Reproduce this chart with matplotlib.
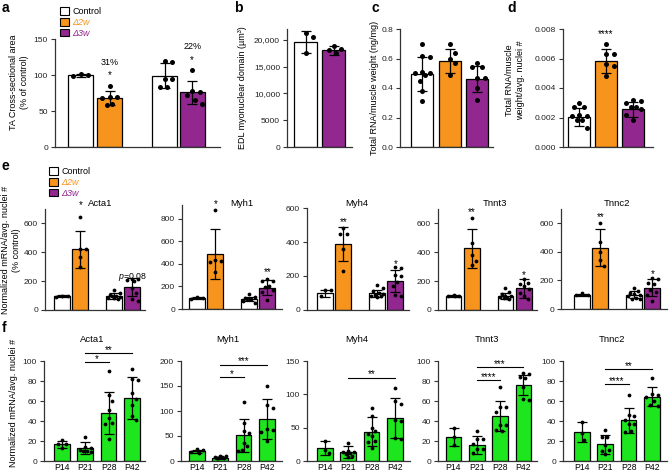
import matplotlib
matplotlib.use("Agg")
import matplotlib.pyplot as plt
import numpy as np
from matplotlib.patches import Patch

plt.rcParams["font.family"] = ["Liberation Sans", "DejaVu Sans"]
plt.rcParams["mathtext.fontset"] = "custom"
plt.rcParams["mathtext.rm"] = "Liberation Sans"
plt.rcParams["mathtext.it"] = "Liberation Sans:italic"

W, H = 669, 475
WHITE, ORANGE, PURPLE, GREEN = "white", "#F7941D", "#92278F", "#1EE61E"

# ---- panel a: TA cross-sectional area (% of control)
a_mean = [99.8, 68.5, 99.0, 75.7]
a_sd = [2.0, 9.5, 17.5, 16.0]
a_pts = [[98, 102, 100], [85, 70, 69, 68, 60, 59],
         [120, 118, 95, 94, 84, 83], [107, 78, 77, 72, 65, 60]]
a_star = ["", "*", "", "*"]
a_star_y = [0, 104, 0, 124]
a_pct = ["", "31%", "", "22%"]
a_pct_y = [0, 118, 0, 140]

# ---- panel b: EDL myonuclear domain
b_mean = [19600, 18000]
b_sd = [2000, 800]
b_pts = [[20600, 21250, 17500], [18900, 18200, 18100, 17500]]

# ---- panel c: total RNA / muscle weight
c_mean = [0.495, 0.585, 0.46]
c_sd = [0.115, 0.08, 0.09]
c_pts = [[0.70, 0.62, 0.61, 0.51, 0.50, 0.50, 0.49, 0.45, 0.38, 0.31],
         [0.70, 0.64, 0.60, 0.57, 0.49],
         [0.57, 0.54, 0.54, 0.47, 0.47, 0.40, 0.32]]

# ---- panel d: total RNA / muscle weight / nuclei
d_mean = [0.00205, 0.00583, 0.00256]
d_sd = [0.0006, 0.0008, 0.0005]
d_pts = [[0.0030, 0.0027, 0.0027, 0.0022, 0.0021, 0.0021, 0.0018, 0.0018, 0.0013],
         [0.0070, 0.0063, 0.0063, 0.0056, 0.0055, 0.0048],
         [0.0032, 0.0031, 0.0030, 0.0027, 0.0027, 0.0026, 0.0022, 0.0018]]

# ---- panel e: normalized mRNA (% control); groups Control, d2w, Control, d3w
e_genes = ["Acta1", "Myh1", "Myh4", "Tnnt3", "Tnnc2"]
e_acta1_mean = [97, 422, 97, 160]
e_acta1_sd = [8, 128, 22, 60]
e_acta1_pts = [[100, 95, 92], [645, 425, 420, 370, 300],
               [140, 120, 105, 100, 95, 90, 85, 80, 75], [215, 212, 208, 200, 150, 120, 75, 60]]
e_myh1_mean = [96, 489, 92, 190]
e_myh1_sd = [8, 223, 18, 70]
e_myh1_pts = [[90, 104, 95], [880, 430, 425, 420, 323],
              [130, 104, 95, 90, 85, 75, 50], [264, 252, 245, 204, 199, 169, 150, 80]]
e_myh4_mean = [98, 388, 98, 171]
e_myh4_sd = [22, 100, 20, 65]
e_myh4_pts = [[118, 117, 80], [480, 448, 448, 358, 232],
              [145, 130, 110, 100, 95, 90, 85, 80, 75], [255, 250, 205, 200, 165, 140, 88, 85]]
e_tnnt3_mean = [97, 427, 97, 150]
e_tnnt3_sd = [4, 133, 22, 68]
e_tnnt3_pts = [[102, 100, 98, 95], [640, 465, 380, 340, 315],
               [150, 125, 110, 100, 95, 90, 85, 80, 75], [212, 190, 180, 165, 143, 120, 97, 74]]
e_tnnc2_mean = [98, 429, 100, 150]
e_tnnc2_sd = [7, 128, 25, 58]
e_tnnc2_pts = [[110, 100, 95], [600, 468, 400, 342, 303],
               [150, 125, 110, 105, 100, 90, 80, 70, 68], [218, 210, 185, 175, 130, 120, 96, 57]]
e_ymax = [700, 920, 600, 700, 700]
e_star = [["", "*", "", ""], ["", "*", "", "**"], ["", "**", "", "*"],
          ["", "**", "", "*"], ["", "**", "", "*"]]
e_star_y = [[0, 745, 0, 0], [0, 951, 0, 347], [0, 535, 0, 288],
            [0, 697, 0, 262], [0, 662, 0, 265]]

# ---- panel f: normalized mRNA/avg nuclei by age
f_ages = ["P14", "P21", "P28", "P42"]
f_acta1_mean = [17, 13, 48.5, 63.5]
f_acta1_sd = [3.5, 6, 21, 21]
f_acta1_pts = [[21, 17.5, 17, 13.5], [24, 14, 13, 11, 10, 10, 9],
               [90, 66, 60, 51, 43, 38, 37, 22], [92, 82, 81, 68, 62, 56, 45, 41]]
f_myh1_mean = [20, 7, 52, 84]
f_myh1_sd = [3, 2, 33, 40]
f_myh1_pts = [[24, 22, 18, 16], [10, 10, 9, 8, 7, 7, 6],
              [119, 77, 60, 56, 37, 30, 23, 20], [150, 112, 107, 64, 62, 58, 40]]
f_myh4_mean = [19.4, 13.4, 44, 64]
f_myh4_sd = [10, 8.5, 22, 30]
f_myh4_pts = [[30, 17, 12], [27, 15, 14, 13, 12, 11, 8, 6],
              [80, 67, 50, 45, 40, 38, 30, 28, 20], [109, 90, 86, 62, 60, 34, 33]]
f_tnnt3_mean = [24, 16.5, 44.7, 76]
f_tnnt3_sd = [9, 9, 15, 10]
f_tnnt3_pts = [[33, 24, 16], [30, 22, 22, 17, 12, 12, 8],
               [74, 54, 54, 49, 36, 36, 31, 30], [88, 87, 84, 83, 74, 62, 61]]
f_tnnc2_mean = [29, 17, 41, 64.5]
f_tnnc2_sd = [10, 9.5, 12.5, 9.5]
f_tnnc2_pts = [[39, 28, 21], [31, 24, 24, 16, 11, 10, 7],
               [66, 46, 45, 41, 37, 37, 30, 29], [83, 67, 66, 64, 60, 56, 55]]
f_ymax = [100, 200, 150, 100, 100]
f_yticks = [np.arange(0, 101, 20), np.arange(0, 201, 50), np.arange(0, 151, 50),
            np.arange(0, 101, 20), np.arange(0, 101, 20)]
# comparisons: (from, to, y, label)
f_sig = [[(1, 2, 99, "*"), (1, 3, 108, "**")],
         [(1, 2, 168, "*"), (1, 3, 193, "***")],
         [(1, 3, 125, "**")],
         [(1, 2, 81, "****"), (1, 3, 94, "***")],
         [(1, 2, 77, "****"), (1, 3, 92, "**")]]

fig = plt.figure(figsize=(W / 100, H / 100), dpi=100)


def px_axes(l, t, r, b):
    return fig.add_axes([l / W, 1 - b / H, (r - l) / W, (b - t) / H])


def swarm(vals, dot_px, ypx, max_off):
    # beeswarm in pixel space; vertical distance counts less so dots fan out sideways
    vals = np.asarray(vals, float)
    placed, out = [], np.zeros(len(vals))
    step = dot_px * 0.5
    need = dot_px * 1.1
    for i in np.argsort(-vals):
        y = vals[i] * ypx * 0.55
        best, best_d = 0.0, -1
        k = 0
        while k * step <= max_off:
            for c in ([0.0] if k == 0 else [k * step, -k * step]):
                d = min([np.hypot(c - px, y - py) for px, py in placed] + [1e9])
                if d >= need:
                    best, best_d = c, 1e9
                    break
                if d > best_d:
                    best, best_d = c, d
            if best_d >= 1e9:
                break
            k += 1
        placed.append((best, y))
        out[i] = best
    return out


def bar_panel(box, c0, unit, pos, width, means, sds, pts, colors, ymax, yticks,
              dot_px, capsize, labelsize=6):
    l, t, r, b = box
    ax = px_axes(*box)
    ypx = (b - t) / ymax
    ax.bar(pos, means, width, color=colors, edgecolor="black", linewidth=0.9, zorder=2)
    ax.errorbar(pos, means, yerr=sds, fmt="none", ecolor="black", elinewidth=0.9,
                capsize=capsize, capthick=0.9, zorder=3)
    for p, vals in zip(pos, pts):
        off = swarm(vals, dot_px, ypx, width * unit * 0.42) / unit
        ax.scatter(p + off, vals, s=(dot_px * 0.72) ** 2, color="black", linewidths=0,
                   zorder=4, clip_on=False)
    ax.set_xlim((l - c0) / unit, (r - c0) / unit)
    ax.set_ylim(0, ymax)
    ax.set_yticks(yticks)
    for s in ["top", "right"]:
        ax.spines[s].set_visible(False)
    for s in ["left", "bottom"]:
        ax.spines[s].set_linewidth(0.9)
        ax.spines[s].set_color("#333333")
    ax.tick_params(axis="y", length=3, width=0.8, labelsize=labelsize, pad=2,
                   color="#333333", labelcolor="#222222")
    ax.tick_params(axis="x", length=0)
    ax.set_xticks([])
    return ax


def star(ax, x, y, txt, size=7):
    ax.annotate(txt, (x, y), xytext=(0, -4), textcoords="offset points",
                ha="center", va="baseline", fontsize=size, annotation_clip=False)


# ---------------- row 1
ax = bar_panel((55, 39, 220, 147), 80.5, 29, [0, 1, 2.9, 3.85], 0.86, a_mean, a_sd, a_pts,
               [WHITE, ORANGE, WHITE, PURPLE], 150, [0, 50, 100, 150], 5, 3.6)
for p, s, sy, pc, py in zip([0, 1, 2.9, 3.85], a_star, a_star_y, a_pct, a_pct_y):
    if s:
        star(ax, p, sy, s)
        ax.text(p, py, pc, ha="center", va="center", fontsize=6.5, clip_on=False)

ax = bar_panel((287, 29, 352, 147), 305.5, 28, [0, 1], 0.82, b_mean, b_sd, b_pts,
               [WHITE, PURPLE], 22000, [0, 5000, 10000, 15000, 20000], 5, 3.6)
ax.set_yticklabels(["0", "5000", "10,000", "15,000", "20,000"])

ax = bar_panel((400, 29, 493, 147), 422, 27.5, [0, 1, 2], 0.8, c_mean, c_sd, c_pts,
               [WHITE, ORANGE, PURPLE], 0.8, [0, 0.2, 0.4, 0.6, 0.8], 5, 3.6)
ax.set_yticklabels(["0.0", "0.2", "0.4", "0.6", "0.8"])

ax = bar_panel((563, 29, 653, 147), 579, 27, [0, 1, 2], 0.81, d_mean, d_sd, d_pts,
               [WHITE, ORANGE, PURPLE], 0.008, [0, 0.002, 0.004, 0.006, 0.008], 5, 3.6)
ax.set_yticklabels(["0.000", "0.002", "0.004", "0.006", "0.008"])
star(ax, 1, 0.0078, "****")

# ---------------- row e
e_boxes = [(45, 209, 145, 310), (182, 205, 282, 309), (307, 208, 409, 310),
           (438, 209, 537, 310), (561, 209, 667, 309)]
e_c0 = [62, 197, 325, 453.5, 582]
e_means = [e_acta1_mean, e_myh1_mean, e_myh4_mean, e_tnnt3_mean, e_tnnc2_mean]
e_sds = [e_acta1_sd, e_myh1_sd, e_myh4_sd, e_tnnt3_sd, e_tnnc2_sd]
e_ptss = [e_acta1_pts, e_myh1_pts, e_myh4_pts, e_tnnt3_pts, e_tnnc2_pts]
e_pos = [0, 1, 2.84, 3.84]
e_title_x = [100, 242, 357, 495, 617]
for i, gene in enumerate(e_genes):
    ticks = [0, 200, 400, 600, 800] if e_ymax[i] > 800 else [0, 200, 400, 600]
    ax = bar_panel(e_boxes[i], e_c0[i], 18.3, e_pos, 0.87, e_means[i], e_sds[i], e_ptss[i],
                   [WHITE, ORANGE, WHITE, PURPLE], e_ymax[i], ticks, 3.8, 3.4)
    for p, s, sy in zip(e_pos, e_star[i], e_star_y[i]):
        if s:
            star(ax, p, sy, s)
    fig.text(e_title_x[i] / W, 1 - 203 / H, gene, ha="center", va="center", fontsize=6.8)
    if gene == "Acta1":
        ax.text(e_pos[3], 226, "$p$=0.08", ha="center", va="center", fontsize=6.3)

# ---------------- row f
f_boxes = [(44, 361, 145, 461), (181, 361, 282, 461), (307, 361, 410, 461),
           (438, 361, 537, 461), (563, 361, 667, 461)]
f_c0 = [62, 197, 325, 453.5, 582]
f_means = [f_acta1_mean, f_myh1_mean, f_myh4_mean, f_tnnt3_mean, f_tnnc2_mean]
f_sds = [f_acta1_sd, f_myh1_sd, f_myh4_sd, f_tnnt3_sd, f_tnnc2_sd]
f_ptss = [f_acta1_pts, f_myh1_pts, f_myh4_pts, f_tnnt3_pts, f_tnnc2_pts]
f_pos = [0, 1, 2, 3]
f_title_x = [92, 228, 357, 487, 612]
for i, gene in enumerate(e_genes):
    ax = bar_panel(f_boxes[i], f_c0[i], 23.3, f_pos, 0.67, f_means[i], f_sds[i], f_ptss[i],
                   [GREEN] * 4, f_ymax[i], f_yticks[i], 3.8, 3.4)
    ax.set_xticks(f_pos)
    ax.set_xticklabels(f_ages, fontsize=6.2)
    ax.tick_params(axis="x", length=0, pad=1.5)
    for a0, a1, y, lab in f_sig[i]:
        ax.plot([f_pos[a0], f_pos[a1]], [y, y], color="black", lw=0.8, clip_on=False)
        ax.annotate(lab, ((f_pos[a0] + f_pos[a1]) / 2, y), xytext=(0, 0.3),
                    textcoords="offset points", ha="center", va="baseline", fontsize=7,
                    annotation_clip=False)
    fig.text(f_title_x[i] / W, 1 - 339 / H, gene, ha="center", va="center", fontsize=6.8)

# ---------------- labels and legends
def ylab(x, y, txt):
    fig.text(x / W, 1 - y / H, txt, rotation=90, ha="center", va="center",
             fontsize=6.5, multialignment="center", linespacing=1.25)


ylab(19, 82, "TA Cross-sectional area\n(% of control)")
ylab(242, 88, "EDL myonuclear domain (µm³)")
ylab(375, 88, "Total RNA/muscle weight (ng/mg)")
ylab(515, 80, "Total RNA/muscle\nweight/avg. nuclei #")
ylab(11, 250, "Normalized mRNA/avg. nuclei #\n(% control)")
ylab(14, 403, "Normalized mRNA/avg. nuclei #")

for x, y, letter in [(2, 8, "a"), (234, 8, "b"), (371, 8, "c"), (507, 8, "d"),
                     (2, 166, "e"), (2, 328, "f")]:
    fig.text(x / W, 1 - y / H, letter, fontsize=10, fontweight="bold", va="center")

handles = [Patch(facecolor=c, edgecolor="black", linewidth=0.8) for c in [WHITE, ORANGE, PURPLE]]
names = ["Control", "Δ2w", "Δ3w"]
for x, y in [(60, 7), (49, 167)]:
    leg = fig.legend(handles, names, loc="upper left", bbox_to_anchor=(x / W, 1 - y / H),
                     frameon=False, fontsize=6.5, handlelength=0.95, handleheight=0.95,
                     handletextpad=0.4, labelspacing=0.2, borderpad=0, borderaxespad=0,
                     labelcolor=["black", ORANGE, PURPLE])
    for t in leg.get_texts()[1:]:
        t.set_style("italic")

fig.savefig("out.png", dpi=100)
